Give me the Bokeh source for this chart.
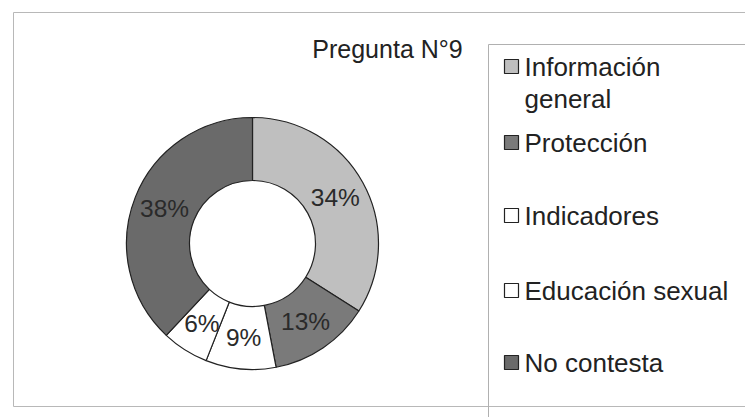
import numpy as np
from bokeh.plotting import figure
from bokeh.models import Range1d, ColumnDataSource
from bokeh.core.properties import value
from bokeh.embed import file_html
from bokeh.resources import INLINE

# ---- data ----
categories = ["Información general", "Protección", "Indicadores", "Educación sexual", "No contesta"]
legend_labels = ["Información\ngeneral", "Protección", "Indicadores", "Educación sexual", "No contesta"]
percentages = [34, 13, 9, 6, 38]
colors = ["#bfbfbf", "#7a7a7a", "#ffffff", "#ffffff", "#6a6a6a"]
title_text = "Pregunta N°9"

# ---- layout constants (pixel coords, y measured from top of image) ----
W, H = 745, 417
FONT = "Liberation Sans"


def X(px):
    return px


def Y(py):
    return H - py


cx, cy = X(252), Y(243)
r_out, r_in = 126, 63

p = figure(width=W, height=H, output_backend="svg", toolbar_location=None,
           x_range=Range1d(0, W), y_range=Range1d(0, H), min_border=0)
p.axis.visible = False
p.grid.visible = False
p.outline_line_color = None
p.background_fill_color = "white"

# chart frame and legend frame
p.quad(left=[X(13)], right=[X(760)], top=[Y(12)], bottom=[Y(406)],
       fill_color=None, line_color="#b8b8b8", line_width=1)
p.quad(left=[X(488)], right=[X(760)], top=[Y(44)], bottom=[Y(430)],
       fill_color=None, line_color="#b0b0b0", line_width=1)

# donut
vals = np.array(percentages, dtype=float)
frac = vals / vals.sum()
cum_end = np.cumsum(frac)
cum_start = cum_end - frac
start = np.pi / 2 - 2 * np.pi * cum_start
end = np.pi / 2 - 2 * np.pi * cum_end
mid = (start + end) / 2
r_mid = (r_in + r_out) / 2

src = ColumnDataSource(dict(start=start, end=end, color=colors, cat=categories,
                            lx=cx + r_mid * np.cos(mid), ly=cy + r_mid * np.sin(mid),
                            lab=[f"{v:g}%" for v in percentages]))
p.annular_wedge(x=cx, y=cy, inner_radius=r_in, outer_radius=r_out,
                start_angle="start", end_angle="end", direction="clock",
                fill_color="color", line_color="#222222", line_width=1.2, source=src)
p.text(x="lx", y="ly", text="lab", source=src, text_align="center",
       text_baseline="middle", text_font=value(FONT), text_font_size="24.5px",
       text_color="#2a2a2a")

# title
p.text(x=[X(387)], y=[Y(48)], text=[title_text], text_align="center",
       text_baseline="middle", text_font=value(FONT), text_font_size="25px",
       text_color="#222222")

# legend
leg_y = [66, 142, 215, 290, 362]
sq = 14
leg_src = ColumnDataSource(dict(x=[X(511)] * 5, y=[Y(v) for v in leg_y],
                                color=colors, lab=legend_labels,
                                tx=[X(524)] * 5, ty=[Y(v) + 15 for v in leg_y]))
p.rect(x="x", y="y", width=sq, height=sq, fill_color="color",
       line_color="#222222", line_width=1.2, source=leg_src)
p.text(x="tx", y="ty", text="lab", source=leg_src, text_align="left",
       text_baseline="top", text_font=value(FONT), text_font_size="26px",
       text_line_height=1.07, text_color="#222222")

open("out.html", "w").write(file_html(p, INLINE))
